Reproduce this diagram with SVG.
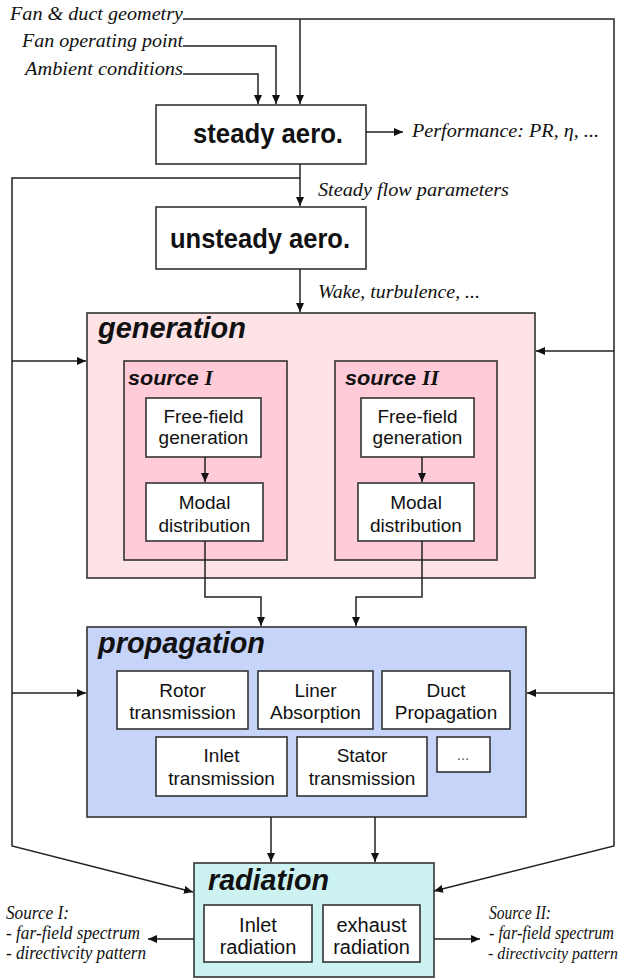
<svg xmlns="http://www.w3.org/2000/svg" width="629" height="978" viewBox="0 0 629 978">
<style>
.bg{fill:#ffffff}
.box{fill:#ffffff;stroke:#333;stroke-width:1.6}
.gen{fill:#fde3e6;stroke:#333;stroke-width:1.6}
.src{fill:#ffcbd8;stroke:#333;stroke-width:1.6}
.prop{fill:#c7d4fa;stroke:#333;stroke-width:1.6}
.rad{fill:#ccf2f1;stroke:#333;stroke-width:1.6}
.lbl{font-family:"Liberation Sans",Arial,sans-serif;font-size:19px;fill:#111;text-anchor:middle}
.big{font-family:"Liberation Sans",Arial,sans-serif;font-size:28px;font-weight:bold;fill:#111}
.title{font-family:"Liberation Sans",Arial,sans-serif;font-size:29px;font-weight:bold;font-style:italic;fill:#111}
.stitle{font-family:"Liberation Sans",Arial,sans-serif;font-size:20px;font-weight:bold;font-style:italic;fill:#111}
.rom{font-family:"Liberation Serif","Times New Roman",serif}
.it{font-family:"Liberation Serif","Times New Roman",serif;font-style:italic;font-size:18px;fill:#111}
.con{fill:none;stroke:#222;stroke-width:1.5}
</style>
<defs>
<marker id="ah" markerWidth="9" markerHeight="8" refX="9" refY="4" orient="auto" markerUnits="userSpaceOnUse">
<path d="M0,0 L9,4 L0,8 z" fill="#111"/>
</marker>
</defs>
<rect class="bg" x="0" y="0" width="629" height="978"/>

<g id="inputs">
<text class="it" x="10" y="20" textLength="173" lengthAdjust="spacingAndGlyphs">Fan &amp; duct geometry</text>
<text class="it" x="22" y="47" textLength="161" lengthAdjust="spacingAndGlyphs">Fan operating point</text>
<text class="it" x="25" y="75" textLength="158" lengthAdjust="spacingAndGlyphs">Ambient conditions</text>
</g>

<g id="steady">
<rect class="box" x="156" y="105" width="210" height="59"/>
<text class="big" x="193" y="143" textLength="150" lengthAdjust="spacingAndGlyphs">steady aero.</text>
</g>
<g id="unsteady">
<rect class="box" x="156" y="207" width="210" height="62"/>
<text class="big" x="170" y="248" textLength="180" lengthAdjust="spacingAndGlyphs">unsteady aero.</text>
</g>

<g id="labels">
<text class="it" x="412" y="137" textLength="187" lengthAdjust="spacingAndGlyphs">Performance:  PR, η, ...</text>
<text class="it" x="318" y="196" textLength="191" lengthAdjust="spacingAndGlyphs">Steady flow parameters</text>
<text class="it" x="318" y="298" textLength="162" lengthAdjust="spacingAndGlyphs">Wake, turbulence, ...</text>
<text class="it" x="6" y="919" textLength="63" lengthAdjust="spacingAndGlyphs">Source I:</text>
<text class="it" x="6" y="939" textLength="134" lengthAdjust="spacingAndGlyphs">- far-field spectrum</text>
<text class="it" x="6" y="959" textLength="140" lengthAdjust="spacingAndGlyphs">- directivcity pattern</text>
<text class="it" x="489" y="919" textLength="62" lengthAdjust="spacingAndGlyphs">Source II:</text>
<text class="it" x="489" y="939" textLength="125" lengthAdjust="spacingAndGlyphs">- far-field spectrum</text>
<text class="it" x="488" y="959" textLength="130" lengthAdjust="spacingAndGlyphs" style="font-size:16px">- directivcity pattern</text>
</g>

<g id="generation">
<rect class="gen" x="87" y="313" width="448" height="265"/>
<text class="title" x="98" y="338" textLength="148" lengthAdjust="spacingAndGlyphs">generation</text>
</g>
<g id="sourceI">
<rect class="src" x="124" y="361" width="163" height="199"/>
<text class="stitle" x="128" y="385" textLength="85" lengthAdjust="spacingAndGlyphs">source <tspan class="rom">I</tspan></text>
</g>
<g id="freefieldI">
<rect class="box" x="146" y="398" width="115" height="59"/>
<text class="lbl" x="203.5" y="423">Free-field</text>
<text class="lbl" x="203.5" y="444">generation</text>
</g>
<g id="modalI">
<rect class="box" x="146" y="483" width="117" height="58"/>
<text class="lbl" x="204.5" y="509">Modal</text>
<text class="lbl" x="204.5" y="532">distribution</text>
</g>
<g id="sourceII">
<rect class="src" x="335" y="361" width="162" height="199"/>
<text class="stitle" x="345" y="385" textLength="94" lengthAdjust="spacingAndGlyphs">source <tspan class="rom">II</tspan></text>
</g>
<g id="freefieldII">
<rect class="box" x="361" y="398" width="113" height="59"/>
<text class="lbl" x="417.5" y="423">Free-field</text>
<text class="lbl" x="417.5" y="444">generation</text>
</g>
<g id="modalII">
<rect class="box" x="358" y="483" width="116" height="58"/>
<text class="lbl" x="416" y="509">Modal</text>
<text class="lbl" x="416" y="532">distribution</text>
</g>

<g id="propagation">
<rect class="prop" x="87" y="627" width="439" height="190"/>
<text class="title" x="98" y="653" textLength="167" lengthAdjust="spacingAndGlyphs">propagation</text>
</g>
<g id="rotor">
<rect class="box" x="117" y="671" width="131" height="58"/>
<text class="lbl" x="182.5" y="697">Rotor</text>
<text class="lbl" x="182.5" y="719">transmission</text>
</g>
<g id="liner">
<rect class="box" x="258" y="671" width="115" height="58"/>
<text class="lbl" x="315.5" y="697">Liner</text>
<text class="lbl" x="315.5" y="719">Absorption</text>
</g>
<g id="duct">
<rect class="box" x="382" y="671" width="128" height="58"/>
<text class="lbl" x="446" y="697">Duct</text>
<text class="lbl" x="446" y="719">Propagation</text>
</g>
<g id="inlet">
<rect class="box" x="156" y="737" width="131" height="59"/>
<text class="lbl" x="221.5" y="762">Inlet</text>
<text class="lbl" x="221.5" y="785">transmission</text>
</g>
<g id="stator">
<rect class="box" x="297" y="737" width="130" height="59"/>
<text class="lbl" x="362" y="762">Stator</text>
<text class="lbl" x="362" y="785">transmission</text>
</g>
<g id="more">
<rect class="box" x="437" y="737" width="53" height="35"/>
<text class="lbl" x="463" y="760" style="font-size:15px;fill:#555">...</text>
</g>

<g id="radiation">
<rect class="rad" x="194" y="863" width="240" height="114"/>
<text class="title" x="208" y="890" textLength="121" lengthAdjust="spacingAndGlyphs">radiation</text>
</g>
<g id="inletrad">
<rect class="box" x="204" y="905" width="108" height="57"/>
<text class="lbl" x="258" y="932" style="font-size:20px">Inlet</text>
<text class="lbl" x="258" y="954" style="font-size:20px">radiation</text>
</g>
<g id="exhaustrad">
<rect class="box" x="323" y="905" width="97" height="57"/>
<text class="lbl" x="371.5" y="932" style="font-size:20px">exhaust</text>
<text class="lbl" x="371.5" y="954" style="font-size:20px">radiation</text>
</g>

<g id="connectors">
<path class="con" d="M183,19 H614 V846 L434,891" marker-end="url(#ah)"/>
<path class="con" d="M300,19 V104" marker-end="url(#ah)"/>
<path class="con" d="M183,46 H276 V104" marker-end="url(#ah)"/>
<path class="con" d="M183,74 H258 V104" marker-end="url(#ah)"/>
<path class="con" d="M366,132 H403" marker-end="url(#ah)"/>
<path class="con" d="M300,164 V206" marker-end="url(#ah)"/>
<path class="con" d="M300,178 H12 V846 L193,892" marker-end="url(#ah)"/>
<path class="con" d="M12,361 H86" marker-end="url(#ah)"/>
<path class="con" d="M12,693 H86" marker-end="url(#ah)"/>
<path class="con" d="M614,351 H536" marker-end="url(#ah)"/>
<path class="con" d="M614,693 H527" marker-end="url(#ah)"/>
<path class="con" d="M300,269 V312" marker-end="url(#ah)"/>
<path class="con" d="M205,457 V482" marker-end="url(#ah)"/>
<path class="con" d="M422,457 V482" marker-end="url(#ah)"/>
<path class="con" d="M205,541 V597 H261 V626" marker-end="url(#ah)"/>
<path class="con" d="M422,541 V597 H356 V626" marker-end="url(#ah)"/>
<path class="con" d="M271,817 V862" marker-end="url(#ah)"/>
<path class="con" d="M375,817 V862" marker-end="url(#ah)"/>
<path class="con" d="M194,939 H148" marker-end="url(#ah)"/>
<path class="con" d="M434,939 H480" marker-end="url(#ah)"/>
</g>
</svg>
